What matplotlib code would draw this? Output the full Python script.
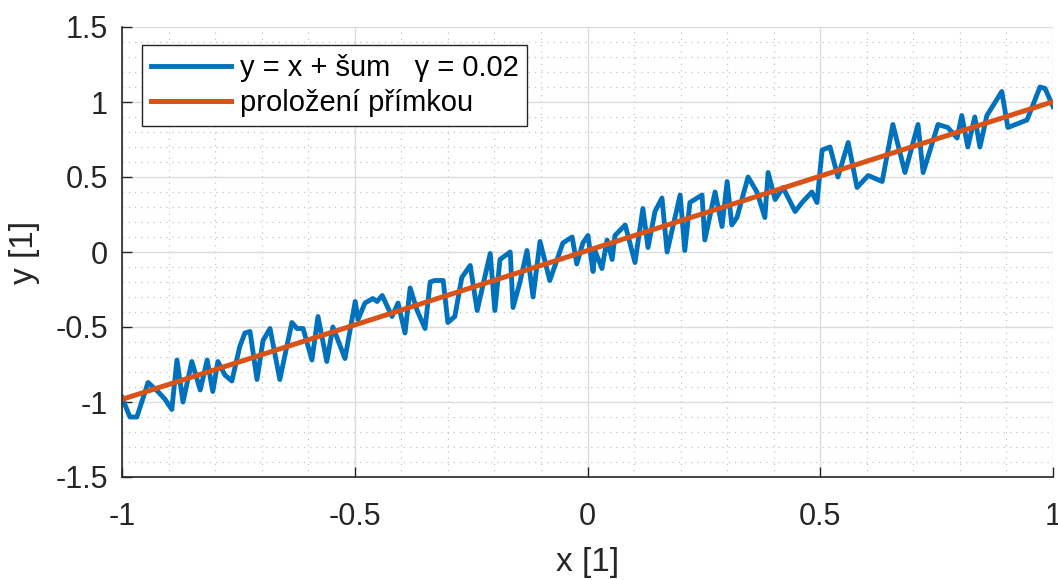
import numpy as np
import matplotlib.pyplot as plt
from matplotlib.ticker import MultipleLocator

plt.rcParams['font.family'] = ['Liberation Sans', 'DejaVu Sans']

# noisy samples of y = x + noise
x_data = [-1.000, -0.983, -0.968, -0.944, -0.923, -0.908, -0.893, -0.882, -0.869, -0.850,
          -0.832, -0.817, -0.805, -0.794, -0.779, -0.764, -0.747, -0.736, -0.725, -0.710,
          -0.697, -0.682, -0.661, -0.635, -0.624, -0.611, -0.592, -0.579, -0.560, -0.547,
          -0.521, -0.499, -0.493, -0.478, -0.461, -0.452, -0.441, -0.420, -0.407, -0.392,
          -0.381, -0.366, -0.349, -0.338, -0.328, -0.310, -0.300, -0.285, -0.270, -0.252,
          -0.237, -0.209, -0.199, -0.188, -0.166, -0.160, -0.145, -0.130, -0.117, -0.102,
          -0.081, -0.053, -0.033, -0.023, -0.010, 0.001, 0.012, 0.016, 0.031, 0.042,
          0.053, 0.059, 0.081, 0.102, 0.119, 0.130, 0.145, 0.160, 0.171, 0.199,
          0.209, 0.220, 0.246, 0.252, 0.274, 0.289, 0.300, 0.310, 0.321, 0.345,
          0.364, 0.381, 0.388, 0.403, 0.420, 0.446, 0.461, 0.482, 0.493, 0.504,
          0.521, 0.538, 0.560, 0.579, 0.603, 0.633, 0.656, 0.682, 0.710, 0.721,
          0.753, 0.774, 0.794, 0.804, 0.817, 0.832, 0.843, 0.858, 0.890, 0.903,
          0.944, 0.957, 0.972, 0.983, 1.000]
y_data = [-0.97, -1.10, -1.10, -0.87, -0.93, -0.98, -1.05, -0.72, -1.00, -0.73,
          -0.92, -0.72, -0.93, -0.73, -0.82, -0.86, -0.63, -0.54, -0.53, -0.85,
          -0.59, -0.51, -0.85, -0.47, -0.51, -0.51, -0.72, -0.43, -0.73, -0.50,
          -0.71, -0.33, -0.45, -0.34, -0.31, -0.33, -0.29, -0.43, -0.34, -0.54,
          -0.24, -0.39, -0.51, -0.20, -0.19, -0.19, -0.47, -0.43, -0.17, -0.09,
          -0.39, -0.01, -0.39, -0.05, 0.00, -0.37, -0.20, 0.01, -0.30, 0.07,
          -0.19, 0.06, 0.10, -0.08, 0.06, 0.11, -0.13, 0.01, -0.11, 0.08,
          -0.05, 0.11, 0.18, -0.07, 0.29, 0.03, 0.27, 0.36, 0.00, 0.38,
          0.01, 0.33, 0.38, 0.08, 0.40, 0.17, 0.47, 0.18, 0.23, 0.50,
          0.40, 0.23, 0.53, 0.35, 0.43, 0.27, 0.33, 0.40, 0.33, 0.68,
          0.70, 0.50, 0.73, 0.43, 0.51, 0.47, 0.85, 0.53, 0.85, 0.53,
          0.85, 0.83, 0.76, 0.91, 0.70, 0.90, 0.70, 0.91, 1.07, 0.83,
          0.88, 0.98, 1.10, 1.09, 0.97]

x = np.array(x_data)
y = np.array(y_data)

# least squares line
k, q = np.polyfit(x, y, 1)
x_fit = np.array([-1.0, 1.0])
y_fit = k * x_fit + q

fig = plt.figure(figsize=(10.58, 5.8), dpi=100)
ax = fig.add_axes([122 / 1058, 1 - 477 / 580, (1053 - 122) / 1058, (477 - 27) / 580])

ax.plot(x, y, color='#0072BD', lw=3.5, label='y = x + šum   γ = 0.02', solid_joinstyle='round')
ax.plot(x_fit, y_fit, color='#D95319', lw=3.6, label='proložení přímkou')

ax.set_xlim(-1, 1)
ax.set_ylim(-1.5, 1.5)
ax.xaxis.set_minor_locator(MultipleLocator(0.1))
ax.yaxis.set_minor_locator(MultipleLocator(0.1))
ax.set_xticks([-1, -0.5, 0, 0.5, 1])
ax.set_xticklabels(['-1', '-0.5', '0', '0.5', '1'])
ax.set_yticks([-1.5, -1, -0.5, 0, 0.5, 1, 1.5])
ax.set_yticklabels(['-1.5', '-1', '-0.5', '0', '0.5', '1', '1.5'])

ax.grid(True, which='major', color='#dcdcdc', lw=1.0)
ax.grid(True, which='minor', color='#c4c4c4', lw=0.9, ls=(0, (1, 4)))
ax.set_axisbelow(True)

ax.tick_params(which='major', direction='in', length=7, width=1, labelsize=22, colors='#262626')
ax.tick_params(axis='x', which='major', pad=18)
ax.tick_params(axis='y', which='major', pad=10)
ax.tick_params(which='minor', length=0)
for s in ['top', 'right']:
    ax.spines[s].set_visible(False)
for s in ['left', 'bottom']:
    ax.spines[s].set_color('#262626')
    ax.spines[s].set_linewidth(1.2)

ax.set_xlabel('x [1]', fontsize=24, color='#262626', labelpad=11)
ax.set_ylabel('y [1]', fontsize=24, color='#262626', labelpad=11)

leg = ax.legend(loc='upper left', bbox_to_anchor=(0.0215, 0.96), fontsize=21, handlelength=2.75,
                fancybox=False, framealpha=1, edgecolor='#262626', borderpad=0.3,
                labelspacing=0.25, handletextpad=0.3, borderaxespad=0)
leg.get_frame().set_linewidth(1.0)

fig.savefig('out.png', dpi=100)
